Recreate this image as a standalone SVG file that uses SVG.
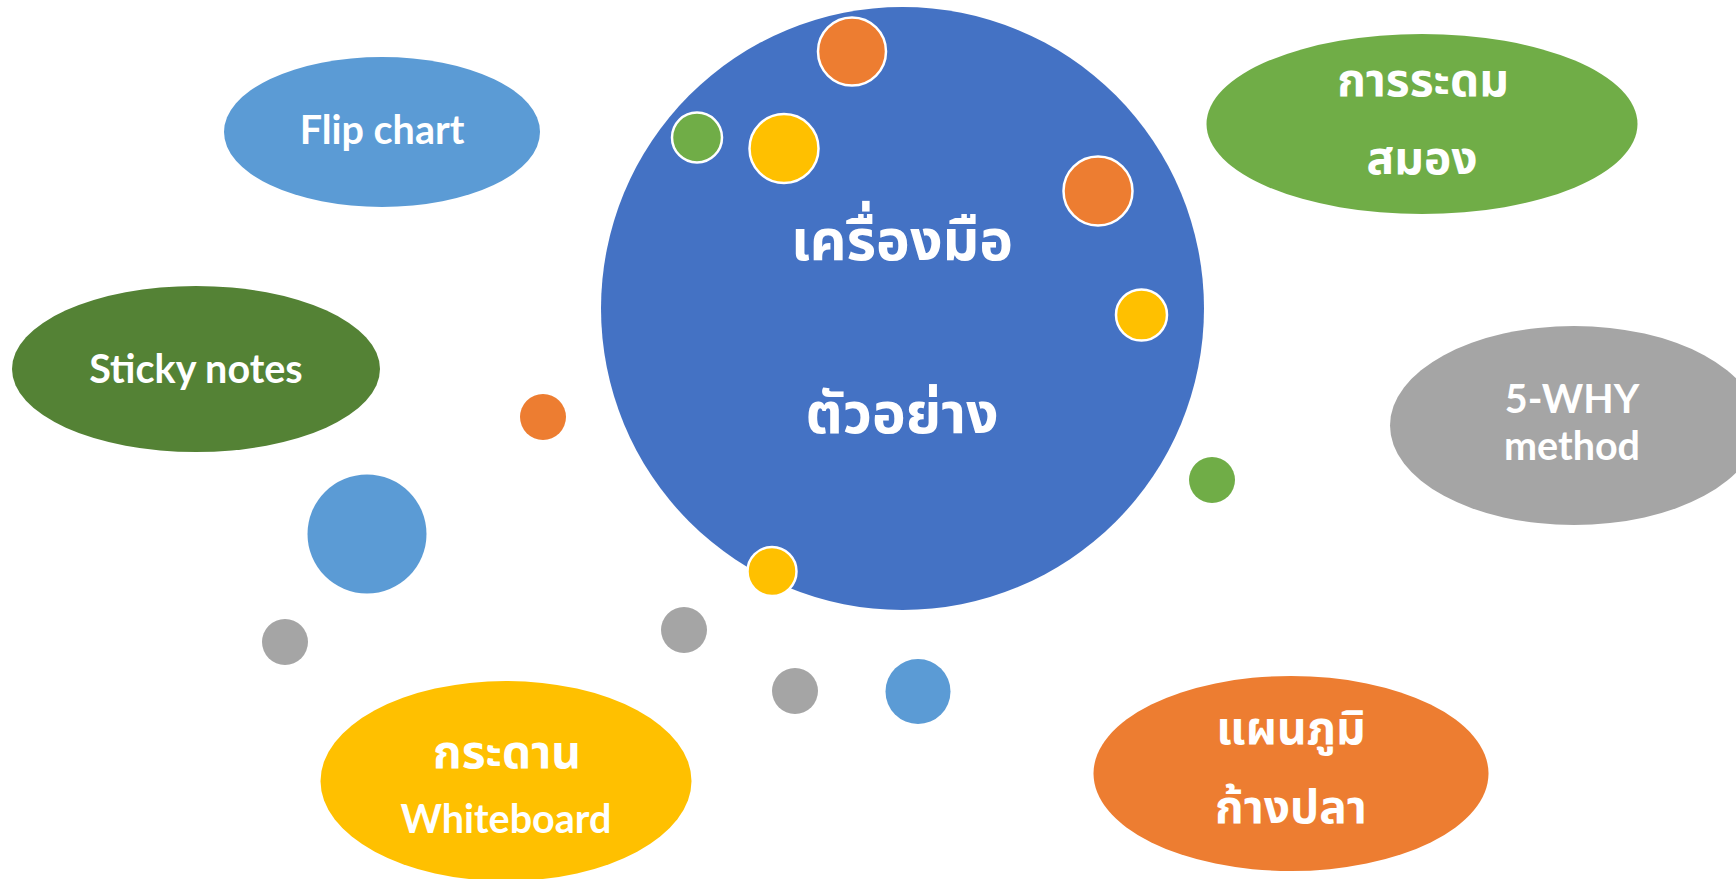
<svg xmlns="http://www.w3.org/2000/svg" width="1736" height="879" viewBox="0 0 1736 879">
<style>
.lbl{font-family:Lato,"Open Sans","Noto Sans","Noto Sans Thai","DejaVu Sans",sans-serif;font-weight:bold;fill:#fff;text-anchor:middle}
.en{font-size:39.5px}
.th{font-size:46px}
.thb{font-size:57px}
.ring{stroke:#fff;stroke-width:2.5}
</style>
<rect width="1736" height="879" fill="#fff"/>
<g id="dots-outside">
<circle cx="543" cy="417" r="23" fill="#ED7D31"/>
<circle cx="367" cy="534" r="59.5" fill="#5B9BD5"/>
<circle cx="285" cy="642" r="23" fill="#A5A5A5"/>
<circle cx="684" cy="630" r="23" fill="#A5A5A5"/>
<circle cx="795" cy="691" r="23" fill="#A5A5A5"/>
<circle cx="1212" cy="480" r="23" fill="#70AD47"/>
<circle cx="918" cy="691.5" r="32.5" fill="#5B9BD5"/>
</g>
<g id="center">
<circle cx="902.5" cy="308.5" r="301.5" fill="#4472C4"/>
<text class="lbl thb" x="902" y="260">เครื่องมือ</text>
<text class="lbl thb" x="902" y="433">ตัวอย่าง</text>
</g>
<g id="dots-ring">
<circle class="ring" cx="852" cy="51.5" r="34" fill="#ED7D31"/>
<circle class="ring" cx="697" cy="137.5" r="25" fill="#70AD47"/>
<circle class="ring" cx="784" cy="148.5" r="34.5" fill="#FFC000"/>
<circle class="ring" cx="1098" cy="191" r="34.5" fill="#ED7D31"/>
<circle class="ring" cx="1141.5" cy="315" r="25.5" fill="#FFC000"/>
<circle class="ring" cx="772" cy="571.5" r="24.5" fill="#FFC000"/>
</g>
<g id="flip-chart">
<ellipse cx="382" cy="132" rx="158" ry="75" fill="#5B9BD5"/>
<text class="lbl en" x="382" y="144">Flip chart</text>
</g>
<g id="sticky-notes">
<ellipse cx="196" cy="369" rx="184" ry="83" fill="#548235"/>
<text class="lbl en" x="196" y="383">Sticky notes</text>
</g>
<g id="brainstorm">
<ellipse cx="1422" cy="124" rx="215.5" ry="90" fill="#70AD47"/>
<text class="lbl th" x="1423" y="96">การระดม</text>
<text class="lbl th" x="1422" y="174">สมอง</text>
</g>
<g id="five-why">
<ellipse cx="1574" cy="425.5" rx="184" ry="99.5" fill="#A5A5A5"/>
<text class="lbl en" x="1572" y="413">5-WHY</text>
<text class="lbl en" x="1572" y="460">method</text>
</g>
<g id="whiteboard">
<ellipse cx="506" cy="781" rx="185.5" ry="100" fill="#FFC000"/>
<text class="lbl th" x="507" y="768">กระดาน</text>
<text class="lbl en" x="506" y="833">Whiteboard</text>
</g>
<g id="fishbone">
<ellipse cx="1291" cy="773.5" rx="197.5" ry="97.5" fill="#ED7D31"/>
<text class="lbl th" x="1291" y="744">แผนภูมิ</text>
<text class="lbl th" x="1291" y="823">ก้างปลา</text>
</g>
<g id="connectors"/>
</svg>
